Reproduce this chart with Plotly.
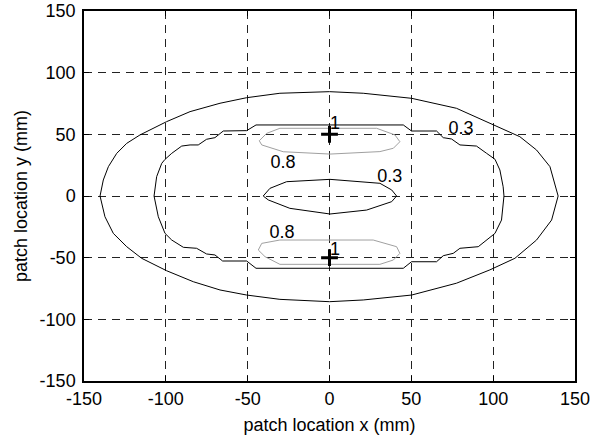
import plotly.graph_objects as go

# Outer 0.3 contour
outer_x = [-140.2, -138.2, -135.1, -130.0, -123.9, -115.8, -99.5, -85.2, -66.9, -50.6, -30.3, 0.0,
           20.6, 50.2, 77.6, 93.9, 116.3, 126.5, 134.7, 139.7, 135.7, 126.5, 113.3, 98.0, 77.6,
           50.2, 20.6, 0.0, -30.3, -50.6, -66.9, -83.2, -99.5, -114.8, -123.9, -132.1, -137.2, -140.2]
outer_y = [0.0, 13.0, 23.8, 34.6, 42.7, 49.5, 60.3, 68.4, 75.2, 79.7, 83.3, 84.6,
           83.3, 79.2, 71.1, 61.6, 48.1, 37.3, 23.8, 0.0, -19.5, -35.7, -50.5, -59.9, -70.7,
           -80.3, -84.3, -85.7, -83.8, -80.3, -76.2, -69.5, -60.6, -50.5, -41.1, -30.3, -16.8, 0.0]

# Stepped ring contour
ring_x = [-107.2, -105.6, -102.5, -100.5, -96.4, -90.3, -85.2, -80.2, -75.1, -70.0, -64.9, -50.6,
          -44.9, 45.1, 50.1, 65.4, 69.5, 74.6, 79.7, 89.8, 96.0, 101.1, 104.1, 106.1, 106.6,
          105.1, 101.1, 90.9, 79.7, 75.6, 69.5, 65.4, 50.1, 45.1, -44.9, -50.6, -65.3, -70.0,
          -75.1, -81.2, -89.3, -96.4, -100.5, -104.6, -107.2]
ring_y = [0.0, 15.7, 26.5, 29.7, 34.6, 40.5, 41.4, 41.4, 46.0, 47.3, 52.7, 53.0,
          57.6, 57.6, 52.7, 52.7, 47.3, 46.2, 41.4, 40.5, 34.6, 29.8, 21.1, 7.5, 0.0,
          -19.5, -30.3, -41.1, -42.4, -46.5, -48.4, -53.3, -53.3, -58.6, -58.6, -52.7, -52.7, -47.8,
          -47.0, -42.4, -41.6, -35.7, -30.3, -16.8, 0.0]

# Inner 0.3 contour
inner_x = [-40.5, -36.4, -26.2, 0.3, 30.8, 38.0, 41.0, 38.0, 22.7, 0.3, -24.2, -37.4, -40.5]
inner_y = [0.0, 6.2, 11.6, 13.5, 10.3, 4.9, 0.0, -4.6, -11.4, -14.6, -10.0, -3.2, 0.0]

# Upper 0.8 contour
upper_x = [-42.9, -38.4, -30.3, 28.8, 40.0, 43.0, 39.0, 30.8, 0.3, -28.3, -41.4, -42.9]
upper_y = [44.8, 50.8, 54.9, 54.9, 49.5, 44.0, 38.7, 36.0, 34.0, 35.9, 41.4, 44.8]

# Lower 0.8 contour
lower_x = [-43.5, -41.4, -30.3, 26.7, 41.0, 43.0, 39.0, 30.8, -30.3, -39.4, -43.5]
lower_y = [-43.8, -38.4, -35.7, -35.7, -41.1, -46.5, -51.9, -55.4, -55.4, -49.2, -43.8]

# Patch locations
patch_x = [0, 0]
patch_y = [50, -50]

# Contour labels
label_text = ["1", "0.8", "0.3", "0.3", "0.8", "1"]
label_x = [3.3, -28.4, 36.9, 80.3, -29.0, 3.3]
label_y = [57.6, 26.5, 15.2, 54.3, -30.0, -43.8]

tick_vals = [-150, -100, -50, 0, 50, 100, 150]
tick_text = ["-150", "-100", "-50", "0", "50", "100", "150"]

FONT = "Arial, Liberation Sans, sans-serif"

fig = go.Figure()
for xs, ys, col in [(outer_x, outer_y, "black"), (ring_x, ring_y, "black"),
                    (inner_x, inner_y, "black"), (upper_x, upper_y, "#a0a0a0"),
                    (lower_x, lower_y, "#a0a0a0")]:
    fig.add_trace(go.Scatter(x=xs, y=ys, mode="lines",
                             line=dict(color=col, width=1), hoverinfo="skip"))

fig.add_trace(go.Scatter(x=patch_x, y=patch_y, mode="markers",
                         marker=dict(symbol="cross-thin", size=12,
                                     line=dict(color="black", width=3))))

fig.add_trace(go.Scatter(x=label_x, y=label_y, mode="text", text=label_text,
                         textfont=dict(family=FONT, size=18, color="black")))

axis_common = dict(
    range=[-150, 150], tickvals=tick_vals, ticktext=tick_text, showgrid=True,
    gridcolor="#222", automargin=False,
    gridwidth=1, griddash="8px,6px", zeroline=False, showline=True,
    linecolor="black", linewidth=1.5, mirror="ticks", ticks="inside", ticklen=5,
    tickcolor="black", tickfont=dict(family=FONT, size=18, color="black"),
    title_font=dict(family=FONT, size=18, color="black"),
)

fig.update_layout(
    width=604, height=443,
    margin=dict(l=84, r=29, t=11, b=62),
    paper_bgcolor="white", plot_bgcolor="white",
    showlegend=False,
    xaxis=dict(**axis_common, title_text="patch location x (mm)", title_standoff=10,
               ticklabelstandoff=1),
    yaxis=dict(**axis_common, title_text="patch location y (mm)", title_standoff=7,
               ticklabelstandoff=3),
)

fig.write_html("out.html", config={"displayModeBar": False},
               post_script="document.body.style.margin='0';document.body.style.overflow='hidden';")
